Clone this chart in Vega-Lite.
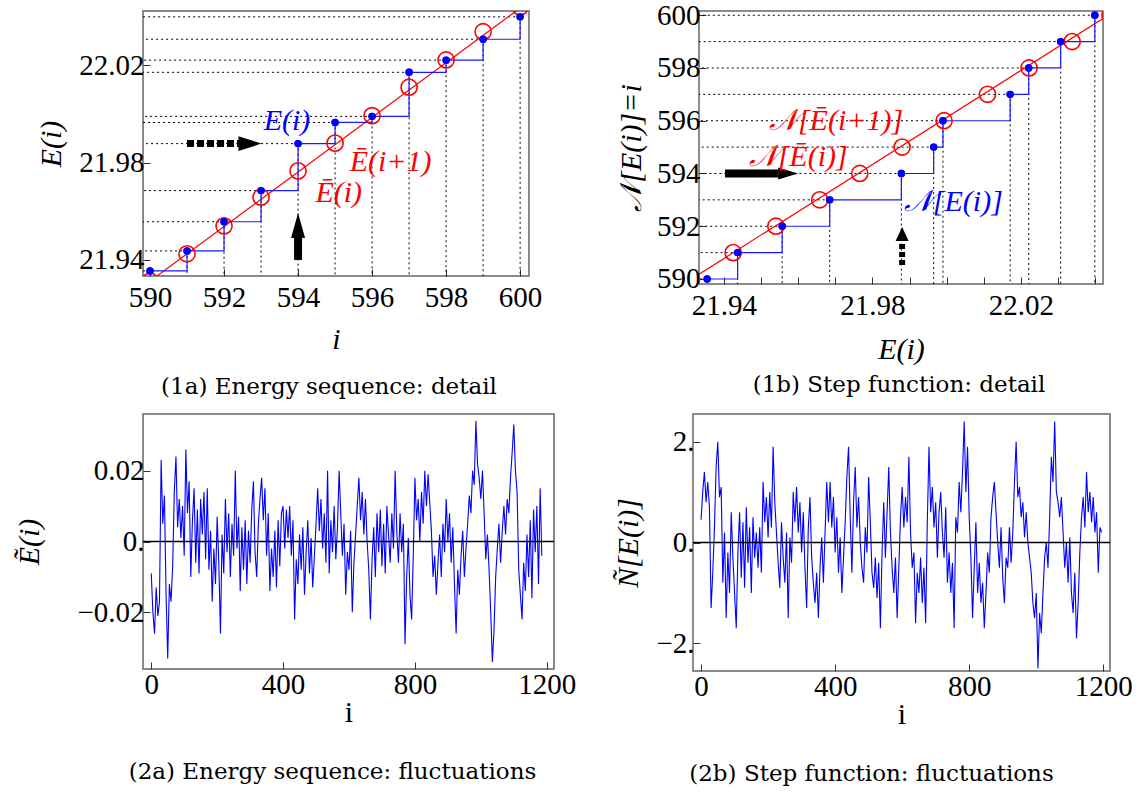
{
"$schema": "https://vega.github.io/schema/vega-lite/v6.json",
"background": "white",
"padding": {"left": 14, "top": 0, "right": 2, "bottom": 2},
"config": {
 "font": "Liberation Serif, Times New Roman, serif",
 "view": {"stroke": "#666", "strokeWidth": 1.5},
 "axis": {"labelFont": "Liberation Serif, Times New Roman, serif", "labelFontSize": 29, "labelColor": "black", "titleFont": "Liberation Serif, Times New Roman, serif", "titleFontSize": 30, "titleFontWeight": "normal", "titleColor": "black", "grid": false, "domain": false, "tickColor": "#333", "tickSize": -7, "tickWidth": 1, "labelPadding": 6},
 "title": {"font": "DejaVu Serif, Liberation Serif, serif", "fontSize": 23, "fontWeight": "normal", "color": "black", "orient": "bottom", "frame": "group", "anchor": "middle"}
},
"datasets": {
 "zero": [{"v": 0}],
 "pts": [
  {"i": 590, "E": 21.9355, "Eb": 21.9313},
  {"i": 591, "E": 21.9437, "Eb": 21.9425},
  {"i": 592, "E": 21.9557, "Eb": 21.954},
  {"i": 593, "E": 21.9685, "Eb": 21.9658},
  {"i": 594, "E": 21.9878, "Eb": 21.9766},
  {"i": 595, "E": 21.9965, "Eb": 21.988},
  {"i": 596, "E": 21.999, "Eb": 21.9993},
  {"i": 597, "E": 22.0171, "Eb": 22.011},
  {"i": 598, "E": 22.0221, "Eb": 22.0222},
  {"i": 599, "E": 22.0307, "Eb": 22.0338},
  {"i": 600, "E": 22.0399, "Eb": 22.044}
 ],
 "fit": [
  {"i": 589.5, "Eb": 21.9257},
  {"i": 600.5, "Eb": 22.0491}
 ],
 "txtA": [
  {"x": 593.7, "y": 21.9969, "t": "E(i)", "kind": "E"},
  {"x": 596.5, "y": 21.9804, "t": "Ē(i+1)", "kind": "Ebar"},
  {"x": 595.1, "y": 21.9676, "t": "Ē(i)", "kind": "Ebar"}
 ],
 "txtB": [
  {"x": 21.9702, "y": 595.99, "t": "𝒩[Ē(i+1)]", "kind": "Ebar"},
  {"x": 21.96, "y": 594.63, "t": "𝒩[Ē(i)]", "kind": "Ebar"},
  {"x": 22.0018, "y": 592.92, "t": "𝒩[E(i)]", "kind": "E"}
 ],
 "arrA": [{"x": 591.0, "x2": 592.4, "y": 21.9878}],
 "arrA2": [{"x": 594, "y": 21.94, "y2": 21.9495}],
 "headA": [{"x": 592.7, "y": 21.9878}],
 "headA2": [{"x": 594, "y": 21.9542}],
 "arrB": [{"x": 21.9403, "x2": 21.9546, "y": 594}],
 "arrB2": [{"x": 21.988, "y": 590.53, "y2": 591.4}],
 "headB": [{"x": 21.9573, "y": 594}],
 "headB2": [{"x": 21.988, "y": 591.71}],
 "s2a": [
{"i":0,"v":-0.009},{"i":5,"v":-0.020},{"i":10,"v":-0.026},{"i":15,"v":-0.013},{"i":20,"v":-0.021},{"i":25,"v":-0.017},{"i":30,"v":0.023},{"i":35,"v":0.005},{"i":40,"v":0.013},{"i":45,"v":-0.015},{"i":50,"v":-0.033},{"i":55,"v":-0.012},{"i":60,"v":-0.017},{"i":65,"v":-0.007},{"i":70,"v":0.014},{"i":75,"v":0.024},{"i":80,"v":0.004},{"i":85,"v":0.012},{"i":90,"v":0.001},{"i":95,"v":0.010},{"i":100,"v":-0.004},{"i":105,"v":0.026},{"i":110,"v":0.008},{"i":115,"v":0.017},{"i":120,"v":-0.010},{"i":125,"v":0.006},{"i":130,"v":0.015},{"i":135,"v":-0.006},{"i":140,"v":0.009},{"i":145,"v":-0.009},{"i":150,"v":0.012},{"i":155,"v":0.002},{"i":160,"v":0.014},{"i":165,"v":-0.005},{"i":170,"v":0.015},{"i":175,"v":-0.008},{"i":180,"v":0.003},{"i":185,"v":-0.017},{"i":190,"v":-0.002},{"i":195,"v":-0.012},{"i":200,"v":0.007},{"i":205,"v":-0.006},{"i":210,"v":-0.026},{"i":215,"v":0.002},{"i":220,"v":-0.009},{"i":225,"v":0.012},{"i":230,"v":-0.003},{"i":235,"v":0.008},{"i":240,"v":-0.010},{"i":245,"v":0.005},{"i":250,"v":-0.004},{"i":255,"v":0.020},{"i":260,"v":-0.002},{"i":265,"v":0.007},{"i":270,"v":-0.014},{"i":275,"v":0.004},{"i":280,"v":-0.008},{"i":285,"v":0.006},{"i":290,"v":-0.012},{"i":295,"v":0.003},{"i":300,"v":-0.006},{"i":305,"v":0.009},{"i":310,"v":0.017},{"i":315,"v":-0.003},{"i":320,"v":-0.010},{"i":325,"v":0.005},{"i":330,"v":0.012},{"i":335,"v":0.018},{"i":340,"v":0.006},{"i":345,"v":0.015},{"i":350,"v":-0.004},{"i":355,"v":0.008},{"i":360,"v":-0.014},{"i":365,"v":-0.002},{"i":370,"v":-0.010},{"i":375,"v":0.003},{"i":380,"v":-0.013},{"i":385,"v":0.006},{"i":390,"v":-0.007},{"i":395,"v":0.008},{"i":400,"v":0.010},{"i":405,"v":-0.002},{"i":410,"v":0.009},{"i":415,"v":0.001},{"i":420,"v":0.010},{"i":425,"v":-0.004},{"i":430,"v":0.006},{"i":435,"v":-0.022},{"i":440,"v":-0.005},{"i":445,"v":-0.012},{"i":450,"v":0.002},{"i":455,"v":-0.008},{"i":460,"v":0.004},{"i":465,"v":-0.015},{"i":470,"v":-0.003},{"i":475,"v":0.006},{"i":480,"v":-0.009},{"i":485,"v":0.001},{"i":490,"v":-0.013},{"i":495,"v":-0.004},{"i":500,"v":0.005},{"i":505,"v":0.015},{"i":510,"v":0.003},{"i":515,"v":0.012},{"i":520,"v":-0.002},{"i":525,"v":0.008},{"i":530,"v":-0.006},{"i":535,"v":0.020},{"i":540,"v":-0.009},{"i":545,"v":0.006},{"i":550,"v":-0.003},{"i":555,"v":0.010},{"i":560,"v":-0.005},{"i":565,"v":0.004},{"i":570,"v":0.020},{"i":575,"v":0.008},{"i":580,"v":-0.004},{"i":585,"v":0.005},{"i":590,"v":-0.015},{"i":595,"v":-0.003},{"i":600,"v":-0.008},{"i":605,"v":0.003},{"i":610,"v":-0.020},{"i":615,"v":-0.006},{"i":620,"v":0.002},{"i":625,"v":0.010},{"i":630,"v":0.018},{"i":635,"v":0.006},{"i":640,"v":0.014},{"i":645,"v":0.002},{"i":650,"v":0.012},{"i":655,"v":0.000},{"i":660,"v":-0.008},{"i":665,"v":-0.022},{"i":670,"v":-0.005},{"i":675,"v":0.004},{"i":680,"v":-0.010},{"i":685,"v":0.008},{"i":690,"v":-0.003},{"i":695,"v":0.009},{"i":700,"v":-0.007},{"i":705,"v":0.005},{"i":710,"v":-0.009},{"i":715,"v":0.010},{"i":720,"v":0.002},{"i":725,"v":-0.006},{"i":730,"v":0.008},{"i":735,"v":-0.002},{"i":740,"v":0.020},{"i":745,"v":0.003},{"i":750,"v":-0.006},{"i":755,"v":0.008},{"i":760,"v":-0.003},{"i":765,"v":0.005},{"i":770,"v":-0.029},{"i":775,"v":-0.010},{"i":780,"v":0.001},{"i":785,"v":-0.015},{"i":790,"v":-0.022},{"i":795,"v":-0.004},{"i":800,"v":0.018},{"i":805,"v":0.006},{"i":810,"v":0.012},{"i":815,"v":0.000},{"i":820,"v":0.014},{"i":825,"v":0.005},{"i":830,"v":0.020},{"i":835,"v":0.010},{"i":840,"v":0.019},{"i":845,"v":0.011},{"i":850,"v":0.003},{"i":855,"v":-0.010},{"i":860,"v":-0.004},{"i":865,"v":-0.015},{"i":870,"v":-0.006},{"i":875,"v":0.002},{"i":880,"v":-0.010},{"i":885,"v":0.005},{"i":890,"v":-0.003},{"i":895,"v":0.012},{"i":900,"v":0.000},{"i":905,"v":0.008},{"i":910,"v":-0.006},{"i":915,"v":0.004},{"i":920,"v":-0.012},{"i":925,"v":-0.026},{"i":930,"v":-0.008},{"i":935,"v":-0.015},{"i":940,"v":-0.004},{"i":945,"v":0.003},{"i":950,"v":-0.010},{"i":955,"v":-0.002},{"i":960,"v":0.005},{"i":965,"v":0.013},{"i":970,"v":0.008},{"i":975,"v":0.020},{"i":980,"v":0.016},{"i":985,"v":0.034},{"i":990,"v":0.022},{"i":995,"v":0.018},{"i":1000,"v":0.012},{"i":1005,"v":0.020},{"i":1010,"v":0.008},{"i":1015,"v":-0.005},{"i":1020,"v":0.002},{"i":1025,"v":-0.008},{"i":1030,"v":-0.020},{"i":1035,"v":-0.034},{"i":1040,"v":-0.025},{"i":1045,"v":-0.010},{"i":1050,"v":-0.002},{"i":1055,"v":0.005},{"i":1060,"v":-0.006},{"i":1065,"v":0.003},{"i":1070,"v":0.010},{"i":1075,"v":0.002},{"i":1080,"v":0.012},{"i":1085,"v":0.008},{"i":1090,"v":0.018},{"i":1095,"v":0.025},{"i":1100,"v":0.033},{"i":1105,"v":0.020},{"i":1110,"v":0.014},{"i":1115,"v":-0.008},{"i":1120,"v":-0.015},{"i":1125,"v":-0.022},{"i":1130,"v":-0.006},{"i":1135,"v":-0.014},{"i":1140,"v":0.002},{"i":1145,"v":-0.010},{"i":1150,"v":0.006},{"i":1155,"v":-0.016},{"i":1160,"v":0.009},{"i":1165,"v":-0.003},{"i":1170,"v":0.010},{"i":1175,"v":-0.012},{"i":1180,"v":0.015},{"i":1185,"v":-0.004}
 ],
 "s2b": [
{"i":0,"v":0.45},{"i":5,"v":1.0},{"i":10,"v":1.4},{"i":15,"v":0.8},{"i":20,"v":1.2},{"i":25,"v":0.7},{"i":30,"v":-1.3},{"i":35,"v":-0.6},{"i":40,"v":0.3},{"i":45,"v":1.5},{"i":50,"v":2.0},{"i":55,"v":0.9},{"i":60,"v":1.1},{"i":65,"v":-0.8},{"i":70,"v":0.2},{"i":75,"v":-1.5},{"i":80,"v":-0.2},{"i":85,"v":-1.0},{"i":90,"v":0.6},{"i":95,"v":-0.3},{"i":100,"v":-1.0},{"i":105,"v":-1.7},{"i":110,"v":-0.2},{"i":115,"v":0.6},{"i":120,"v":-0.7},{"i":125,"v":0.4},{"i":130,"v":-0.9},{"i":135,"v":0.7},{"i":140,"v":-0.4},{"i":145,"v":0.3},{"i":150,"v":-1.0},{"i":155,"v":0.5},{"i":160,"v":-0.3},{"i":165,"v":0.2},{"i":170,"v":-0.5},{"i":175,"v":0.3},{"i":180,"v":-0.6},{"i":185,"v":1.2},{"i":190,"v":0.4},{"i":195,"v":0.9},{"i":200,"v":0.1},{"i":205,"v":1.0},{"i":210,"v":0.3},{"i":215,"v":1.9},{"i":220,"v":0.8},{"i":225,"v":0.2},{"i":230,"v":-0.4},{"i":235,"v":-0.9},{"i":240,"v":0.4},{"i":245,"v":-0.3},{"i":250,"v":-0.8},{"i":255,"v":0.2},{"i":260,"v":-1.5},{"i":265,"v":0.1},{"i":270,"v":-0.4},{"i":275,"v":1.0},{"i":280,"v":0.4},{"i":285,"v":1.1},{"i":290,"v":0.2},{"i":295,"v":0.8},{"i":300,"v":-0.2},{"i":305,"v":0.6},{"i":310,"v":-0.5},{"i":315,"v":-1.3},{"i":320,"v":0.3},{"i":325,"v":0.9},{"i":330,"v":-0.3},{"i":335,"v":-0.8},{"i":340,"v":-1.2},{"i":345,"v":-0.6},{"i":350,"v":-1.5},{"i":355,"v":-0.5},{"i":360,"v":0.1},{"i":365,"v":-0.8},{"i":370,"v":0.2},{"i":375,"v":1.2},{"i":380,"v":0.4},{"i":385,"v":1.2},{"i":390,"v":0.3},{"i":395,"v":0.9},{"i":400,"v":-0.2},{"i":405,"v":0.5},{"i":410,"v":-0.6},{"i":415,"v":0.1},{"i":420,"v":-1.0},{"i":425,"v":-0.3},{"i":430,"v":0.4},{"i":435,"v":1.3},{"i":440,"v":1.9},{"i":445,"v":0.5},{"i":450,"v":-0.6},{"i":455,"v":0.8},{"i":460,"v":1.5},{"i":465,"v":0.3},{"i":470,"v":0.9},{"i":475,"v":0.0},{"i":480,"v":-0.5},{"i":485,"v":-0.8},{"i":490,"v":0.3},{"i":495,"v":-0.2},{"i":500,"v":1.3},{"i":505,"v":0.4},{"i":510,"v":-0.6},{"i":515,"v":-0.9},{"i":520,"v":-0.3},{"i":525,"v":-1.1},{"i":530,"v":-0.4},{"i":535,"v":-1.7},{"i":540,"v":-0.2},{"i":545,"v":0.8},{"i":550,"v":-0.3},{"i":555,"v":0.6},{"i":560,"v":1.5},{"i":565,"v":0.2},{"i":570,"v":-0.5},{"i":575,"v":-1.0},{"i":580,"v":-0.3},{"i":585,"v":-1.5},{"i":590,"v":-0.5},{"i":595,"v":0.5},{"i":600,"v":1.1},{"i":605,"v":0.3},{"i":610,"v":0.9},{"i":615,"v":0.4},{"i":620,"v":1.7},{"i":625,"v":0.2},{"i":630,"v":-0.5},{"i":635,"v":-0.2},{"i":640,"v":-1.6},{"i":645,"v":-0.6},{"i":650,"v":-1.0},{"i":655,"v":-0.3},{"i":660,"v":-1.2},{"i":665,"v":-0.5},{"i":670,"v":-1.6},{"i":675,"v":0.4},{"i":680,"v":1.9},{"i":685,"v":0.6},{"i":690,"v":1.1},{"i":695,"v":0.3},{"i":700,"v":0.8},{"i":705,"v":-0.3},{"i":710,"v":0.6},{"i":715,"v":1.0},{"i":720,"v":0.2},{"i":725,"v":-0.3},{"i":730,"v":0.7},{"i":735,"v":-0.8},{"i":740,"v":-0.2},{"i":745,"v":-1.0},{"i":750,"v":-0.4},{"i":755,"v":-1.7},{"i":760,"v":0.5},{"i":765,"v":0.2},{"i":770,"v":1.2},{"i":775,"v":0.6},{"i":780,"v":1.4},{"i":785,"v":2.4},{"i":790,"v":1.0},{"i":795,"v":1.9},{"i":800,"v":0.5},{"i":805,"v":-0.3},{"i":810,"v":-1.5},{"i":815,"v":-0.5},{"i":820,"v":0.4},{"i":825,"v":-1.0},{"i":830,"v":-0.4},{"i":835,"v":-1.2},{"i":840,"v":-0.8},{"i":845,"v":-1.7},{"i":850,"v":-1.0},{"i":855,"v":-0.2},{"i":860,"v":-0.6},{"i":865,"v":0.5},{"i":870,"v":0.9},{"i":875,"v":1.2},{"i":880,"v":0.6},{"i":885,"v":0.0},{"i":890,"v":-0.5},{"i":895,"v":0.3},{"i":900,"v":-0.7},{"i":905,"v":-1.2},{"i":910,"v":-0.3},{"i":915,"v":-0.5},{"i":920,"v":0.3},{"i":925,"v":-0.4},{"i":930,"v":0.2},{"i":935,"v":1.2},{"i":940,"v":2.0},{"i":945,"v":0.9},{"i":950,"v":1.1},{"i":955,"v":0.5},{"i":960,"v":0.8},{"i":965,"v":0.1},{"i":970,"v":0.6},{"i":975,"v":0.0},{"i":980,"v":-0.3},{"i":985,"v":-0.6},{"i":990,"v":-1.2},{"i":995,"v":-1.5},{"i":1000,"v":-1.0},{"i":1005,"v":-2.5},{"i":1010,"v":-1.4},{"i":1015,"v":-1.8},{"i":1020,"v":-1.0},{"i":1025,"v":-0.3},{"i":1030,"v":0.0},{"i":1035,"v":-0.5},{"i":1040,"v":0.5},{"i":1045,"v":1.7},{"i":1050,"v":1.2},{"i":1055,"v":2.4},{"i":1060,"v":1.0},{"i":1065,"v":0.8},{"i":1070,"v":0.5},{"i":1075,"v":0.9},{"i":1080,"v":0.2},{"i":1085,"v":-0.5},{"i":1090,"v":0.0},{"i":1095,"v":-0.8},{"i":1100,"v":0.1},{"i":1105,"v":-1.0},{"i":1110,"v":-1.4},{"i":1115,"v":-0.6},{"i":1120,"v":-1.9},{"i":1125,"v":-1.2},{"i":1130,"v":-0.2},{"i":1135,"v":0.5},{"i":1140,"v":0.9},{"i":1145,"v":0.3},{"i":1150,"v":1.4},{"i":1155,"v":0.6},{"i":1160,"v":1.0},{"i":1165,"v":0.4},{"i":1170,"v":0.9},{"i":1175,"v":0.2},{"i":1180,"v":0.6},{"i":1185,"v":-0.6},{"i":1190,"v":0.3},{"i":1195,"v":0.2}
 ]
},
"spacing": 13,
"vconcat": [
 {"spacing": 72, "hconcat": [
  {"width": 386, "height": 265,
   "title": {"text": "(1a) Energy sequence: detail", "dx": -7, "offset": 22},
   "layer": [
    {"data": {"name": "pts"}, "mark": {"type": "point", "shape": "circle", "filled": true, "size": 55, "color": "#0000ff", "opacity": 1, "clip": true},
     "encoding": {"x": {"field": "i", "type": "quantitative", "scale": {"domain": [589.81, 600.24], "nice": false, "zero": false}, "axis": {"title": "i", "titleFontStyle": "italic", "values": [590, 591, 592, 593, 594, 595, 596, 597, 598, 599, 600], "labelExpr": "datum.value % 2 == 0 ? datum.label : ''", "titlePadding": 12, "labelPadding": 14}}, "y": {"field": "E", "type": "quantitative", "scale": {"domain": [21.9334, 22.0423], "nice": false, "zero": false}, "axis": {"title": "E(i)", "titleFontStyle": "italic", "values": [21.94, 21.98, 22.02], "format": ".2f", "titlePadding": 12}}}},
    {"data": {"name": "pts"}, "mark": {"type": "rule", "strokeDash": [2, 3], "color": "black", "strokeWidth": 1},
     "encoding": {"x": {"field": "i", "type": "quantitative"}, "x2": {"datum": 589.81}, "y": {"field": "E", "type": "quantitative"}}},
    {"data": {"name": "pts"}, "mark": {"type": "rule", "strokeDash": [2, 3], "color": "black", "strokeWidth": 1},
     "encoding": {"x": {"field": "i", "type": "quantitative"}, "y": {"field": "E", "type": "quantitative"}, "y2": {"datum": 21.9334}}},
    {"data": {"name": "fit"}, "mark": {"type": "line", "color": "#ff0000", "strokeWidth": 1.2, "clip": true},
     "encoding": {"x": {"field": "i", "type": "quantitative"}, "y": {"field": "Eb", "type": "quantitative"}}},
    {"data": {"name": "pts"}, "mark": {"type": "line", "color": "#1a1aff", "strokeWidth": 1.2, "interpolate": "step-after", "clip": true},
     "encoding": {"x": {"field": "i", "type": "quantitative"}, "y": {"field": "E", "type": "quantitative"}}},
    {"data": {"name": "pts"}, "mark": {"type": "point", "shape": "circle", "filled": false, "size": 260, "stroke": "#ff0000", "strokeWidth": 1.6, "opacity": 1, "clip": true},
     "encoding": {"x": {"field": "i", "type": "quantitative"}, "y": {"field": "Eb", "type": "quantitative"}}},
    {"data": {"name": "pts"}, "mark": {"type": "point", "shape": "circle", "filled": true, "size": 55, "color": "#0000ff", "opacity": 1, "clip": true},
     "encoding": {"x": {"field": "i", "type": "quantitative"}, "y": {"field": "E", "type": "quantitative"}}},
    {"data": {"name": "arrA"}, "mark": {"type": "rule", "color": "black", "strokeWidth": 7, "strokeDash": [7, 3]},
     "encoding": {"x": {"field": "x", "type": "quantitative"}, "x2": {"field": "x2"}, "y": {"field": "y", "type": "quantitative"}}},
    {"data": {"name": "arrA2"}, "mark": {"type": "rule", "color": "black", "strokeWidth": 8},
     "encoding": {"x": {"field": "x", "type": "quantitative"}, "y": {"field": "y", "type": "quantitative"}, "y2": {"field": "y2"}}},
    {"data": {"name": "headA"}, "mark": {"type": "point", "shape": "M-1,-0.65L1,0L-1,0.65Z", "filled": true, "size": 529, "color": "black", "opacity": 1},
     "encoding": {"x": {"field": "x", "type": "quantitative"}, "y": {"field": "y", "type": "quantitative"}}},
    {"data": {"name": "headA2"}, "mark": {"type": "point", "shape": "M-0.56,1L0,-1L0.56,1Z", "filled": true, "size": 625, "color": "black", "opacity": 1},
     "encoding": {"x": {"field": "x", "type": "quantitative"}, "y": {"field": "y", "type": "quantitative"}}},
    {"data": {"name": "txtA"}, "mark": {"type": "text", "font": "Liberation Serif, Times New Roman, serif", "fontStyle": "italic", "fontSize": 30, "align": "center", "baseline": "middle"},
     "encoding": {"x": {"field": "x", "type": "quantitative"}, "y": {"field": "y", "type": "quantitative"}, "text": {"field": "t"}, "color": {"field": "kind", "type": "nominal", "scale": {"domain": ["E", "Ebar"], "range": ["#0000ff", "#ff0000"]}, "legend": null}}}
   ]},
  {"width": 404, "height": 273,
   "title": {"text": "(1b) Step function: detail", "dx": -2, "offset": 10},
   "layer": [
    {"data": {"name": "pts"}, "mark": {"type": "point", "shape": "circle", "filled": true, "size": 55, "color": "#0000ff", "opacity": 1, "clip": true},
     "encoding": {"x": {"field": "E", "type": "quantitative", "scale": {"domain": [21.9333, 22.0421], "nice": false, "zero": false}, "axis": {"title": "E(i)", "titleFontStyle": "italic", "values": [21.94, 21.95, 21.96, 21.97, 21.98, 21.99, 22.0, 22.01, 22.02, 22.03, 22.04], "labelExpr": "(abs(datum.value - 21.94) < 0.001 || abs(datum.value - 21.98) < 0.001 || abs(datum.value - 22.02) < 0.001) ? format(datum.value, '.2f') : ''", "titlePadding": 14, "labelPadding": 14}}, "y": {"field": "i", "type": "quantitative", "scale": {"domain": [589.81, 600.16], "nice": false, "zero": false}, "axis": {"title": "𝒩[E(i)]=i", "titleFontStyle": "italic", "values": [590, 591, 592, 593, 594, 595, 596, 597, 598, 599, 600], "labelExpr": "datum.value % 2 == 0 ? datum.label : ''", "titlePadding": 10}}}},
    {"data": {"name": "pts"}, "mark": {"type": "rule", "strokeDash": [2, 3], "color": "black", "strokeWidth": 1},
     "encoding": {"x": {"field": "E", "type": "quantitative"}, "x2": {"datum": 21.9333}, "y": {"field": "i", "type": "quantitative"}}},
    {"data": {"name": "pts"}, "mark": {"type": "rule", "strokeDash": [2, 3], "color": "black", "strokeWidth": 1},
     "encoding": {"x": {"field": "E", "type": "quantitative"}, "y": {"field": "i", "type": "quantitative"}, "y2": {"datum": 589.81}}},
    {"data": {"name": "fit"}, "mark": {"type": "line", "color": "#ff0000", "strokeWidth": 1.2, "clip": true},
     "encoding": {"x": {"field": "Eb", "type": "quantitative"}, "y": {"field": "i", "type": "quantitative"}}},
    {"data": {"name": "pts"}, "mark": {"type": "line", "color": "#1a1aff", "strokeWidth": 1.2, "interpolate": "step-after", "clip": true},
     "encoding": {"x": {"field": "E", "type": "quantitative"}, "y": {"field": "i", "type": "quantitative"}}},
    {"data": {"name": "pts"}, "mark": {"type": "point", "shape": "circle", "filled": false, "size": 260, "stroke": "#ff0000", "strokeWidth": 1.6, "opacity": 1, "clip": true},
     "encoding": {"x": {"field": "Eb", "type": "quantitative"}, "y": {"field": "i", "type": "quantitative"}}},
    {"data": {"name": "pts"}, "mark": {"type": "point", "shape": "circle", "filled": true, "size": 55, "color": "#0000ff", "opacity": 1, "clip": true},
     "encoding": {"x": {"field": "E", "type": "quantitative"}, "y": {"field": "i", "type": "quantitative"}}},
    {"data": {"name": "arrB"}, "mark": {"type": "rule", "color": "black", "strokeWidth": 8},
     "encoding": {"x": {"field": "x", "type": "quantitative"}, "x2": {"field": "x2"}, "y": {"field": "y", "type": "quantitative"}}},
    {"data": {"name": "arrB2"}, "mark": {"type": "rule", "color": "black", "strokeWidth": 6, "strokeDash": [5, 3]},
     "encoding": {"x": {"field": "x", "type": "quantitative"}, "y": {"field": "y", "type": "quantitative"}, "y2": {"field": "y2"}}},
    {"data": {"name": "headB"}, "mark": {"type": "point", "shape": "M-1,-0.6L1,0L-1,0.6Z", "filled": true, "size": 400, "color": "black", "opacity": 1},
     "encoding": {"x": {"field": "x", "type": "quantitative"}, "y": {"field": "y", "type": "quantitative"}}},
    {"data": {"name": "headB2"}, "mark": {"type": "point", "shape": "M-0.93,1L0,-1L0.93,1Z", "filled": true, "size": 196, "color": "black", "opacity": 1},
     "encoding": {"x": {"field": "x", "type": "quantitative"}, "y": {"field": "y", "type": "quantitative"}}},
    {"data": {"name": "txtB"}, "mark": {"type": "text", "font": "Liberation Serif, Times New Roman, serif", "fontStyle": "italic", "fontSize": 30, "align": "center", "baseline": "middle"},
     "encoding": {"x": {"field": "x", "type": "quantitative"}, "y": {"field": "y", "type": "quantitative"}, "text": {"field": "t"}, "color": {"field": "kind", "type": "nominal", "scale": {"domain": ["E", "Ebar"], "range": ["#0000ff", "#ff0000"]}, "legend": null}}}
   ]}
 ]},
 {"spacing": 36, "hconcat": [
  {"width": 411, "height": 255,
   "title": {"text": "(2a) Energy sequence: fluctuations", "dx": -16, "offset": 34},
   "layer": [
    {"data": {"name": "s2a"}, "mark": {"type": "line", "color": "#0000ff", "strokeWidth": 1.1, "clip": true},
     "encoding": {"x": {"field": "i", "type": "quantitative", "scale": {"domain": [-25, 1222], "nice": false, "zero": false}, "axis": {"title": "i", "values": [0, 400, 800, 1200], "format": "d", "titlePadding": -2, "labelPadding": 8}}, "y": {"field": "v", "type": "quantitative", "scale": {"domain": [-0.036, 0.036], "nice": false, "zero": false}, "axis": {"title": "Ẽ(i)", "titleFontStyle": "italic", "values": [-0.02, 0, 0.02], "labelExpr": "datum.value == 0 ? '0.' : format(datum.value, '.2f')", "titlePadding": 32}}}},
    {"data": {"name": "zero"}, "mark": {"type": "rule", "color": "black", "strokeWidth": 1.3},
     "encoding": {"y": {"field": "v", "type": "quantitative"}}}
   ]},
  {"width": 417, "height": 257,
   "title": {"text": "(2b) Step function: fluctuations", "dx": -30, "offset": 34},
   "layer": [
    {"data": {"name": "s2b"}, "mark": {"type": "line", "color": "#0000ff", "strokeWidth": 1.1, "clip": true},
     "encoding": {"x": {"field": "i", "type": "quantitative", "scale": {"domain": [-24, 1220], "nice": false, "zero": false}, "axis": {"title": "i", "values": [0, 400, 800, 1200], "format": "d", "titlePadding": -2, "labelPadding": 8}}, "y": {"field": "v", "type": "quantitative", "scale": {"domain": [-2.55, 2.55], "nice": false, "zero": false}, "axis": {"title": "Ñ[E(i)]", "titleFontStyle": "italic", "values": [-2, 0, 2], "labelExpr": "format(datum.value, 'd') + '.'", "titlePadding": 12}}}},
    {"data": {"name": "zero"}, "mark": {"type": "rule", "color": "black", "strokeWidth": 1.3},
     "encoding": {"y": {"field": "v", "type": "quantitative"}}}
   ]}
 ]}
]
}
